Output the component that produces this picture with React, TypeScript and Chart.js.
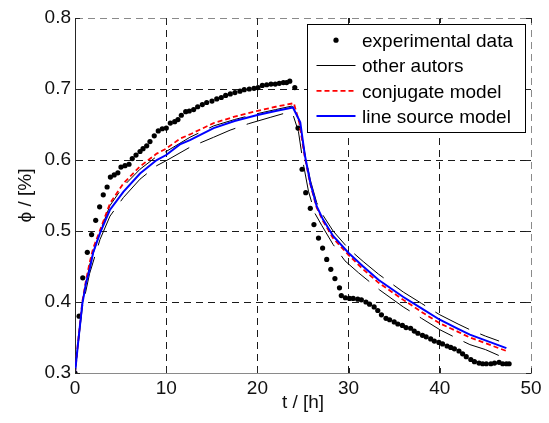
import React, { useEffect, useRef } from 'react';
import { Chart, registerables } from 'chart.js';

Chart.register(...registerables);

// ---------- data ----------
const expT = [
  0.0, 0.45, 0.85, 1.35, 1.82, 2.27, 2.7, 3.1, 3.52, 3.88, 4.3, 4.7, 5.04, 5.48, 5.92, 6.28, 6.69, 7.13,
  7.46, 7.86, 8.22, 8.69, 9.13, 9.57, 10.01, 10.45, 10.93, 11.29, 11.66, 12.14, 12.53, 13.01, 13.45,
  13.96, 14.44, 15.02, 15.54, 16.04, 16.52, 17.03, 17.54, 18.09, 18.56, 19.11, 19.63, 20.07, 20.54,
  21.02, 21.49, 21.96, 22.4, 22.85, 23.2, 23.55, 24.1, 24.45, 24.9, 25.3, 25.8, 26.2, 26.7, 27.15,
  27.6, 28.05, 28.5, 29.0, 29.2, 29.65, 30.1, 30.5, 31.0, 31.4, 31.9, 32.3, 32.8, 33.2, 33.6, 34.1,
  34.5, 35.0, 35.4, 35.9, 36.3, 36.8, 37.2, 37.6, 38.1, 38.5, 39.0, 39.4, 39.9, 40.3, 40.8, 41.2,
  41.6, 42.1, 42.5, 42.9, 43.4, 43.8, 44.3, 44.7, 45.1, 45.6, 46.0, 46.5, 46.9, 47.3, 47.6,
];
const expPhi = [
  0.3, 0.38, 0.434, 0.47, 0.495, 0.515, 0.534, 0.551, 0.562, 0.576, 0.579, 0.582, 0.59, 0.592, 0.594,
  0.602, 0.607, 0.612, 0.616, 0.62, 0.626, 0.634, 0.641, 0.644, 0.645, 0.652, 0.654, 0.657, 0.663,
  0.668, 0.669, 0.671, 0.675, 0.678, 0.681, 0.683, 0.686, 0.688, 0.691, 0.693, 0.695, 0.697, 0.699,
  0.7, 0.701, 0.702, 0.705, 0.706, 0.707, 0.707, 0.708, 0.709, 0.709, 0.711, 0.702, 0.645, 0.587,
  0.554, 0.532, 0.509, 0.49, 0.476, 0.46, 0.446, 0.433, 0.42, 0.409, 0.406, 0.405, 0.405, 0.404,
  0.403, 0.4, 0.397, 0.393, 0.388, 0.382, 0.377, 0.375, 0.372, 0.369, 0.367, 0.364, 0.363, 0.359,
  0.356, 0.353, 0.351, 0.348, 0.345, 0.343, 0.341, 0.338, 0.336, 0.334, 0.331, 0.327, 0.323, 0.319,
  0.316, 0.314, 0.313, 0.313, 0.313, 0.314, 0.315, 0.313, 0.313, 0.313,
];

const otherUpperT = [
  0, 0.8, 1.6, 2.74, 3.84, 5.3, 7.13, 8.96, 10.0, 12.6, 15.2, 17.5, 19.9, 22.0, 23.8, 24.6, 25.2,
  25.8, 26.5, 27.2, 28.3, 30.0, 31.6, 33.3, 36.0, 38.0, 40.0, 42.0, 43.3, 45.0, 46.5,
];
const otherUpperPhi = [
  0.3, 0.398, 0.452, 0.499, 0.536, 0.563, 0.587, 0.605, 0.612, 0.632, 0.648, 0.657, 0.665, 0.671,
  0.676, 0.655, 0.61, 0.572, 0.54, 0.522, 0.5, 0.475, 0.457, 0.439, 0.414, 0.398, 0.382, 0.369,
  0.361, 0.352, 0.345,
];
const otherLowerT = [
  0, 0.8, 1.6, 2.74, 3.84, 5.3, 7.13, 8.96, 10.0, 12.6, 15.2, 17.0, 19.0, 21.4, 23.3, 23.9, 24.5,
  25.0, 25.6, 26.3, 27.05, 28.3, 29.6, 31.1, 33.4, 36.0, 38.0, 40.0, 42.0, 43.3, 45.0, 47.3,
];
const otherLowerPhi = [
  0.3, 0.392, 0.44, 0.488, 0.521, 0.547, 0.573, 0.592, 0.599, 0.618, 0.632, 0.642, 0.651, 0.66,
  0.667, 0.664, 0.64, 0.597, 0.556, 0.525, 0.508, 0.481, 0.458, 0.441, 0.417, 0.393, 0.377, 0.361,
  0.348, 0.34, 0.333, 0.32,
];

const conjT = [
  0, 0.4, 0.8, 1.2, 1.6, 2.0, 2.74, 3.84, 5.3, 7.13, 8.96, 10.0, 11.5, 12.6, 15.2, 17.5, 19.9, 22.0,
  24.0, 24.6, 25.2, 25.8, 26.5, 27.2, 28.3, 30.0, 31.6, 33.3, 36.0, 38.0, 40.0, 42.0, 43.3, 45.0, 47.3,
];
const conjPhi = [
  0.3, 0.352, 0.4, 0.43, 0.455, 0.476, 0.501, 0.539, 0.567, 0.591, 0.609, 0.616, 0.63, 0.636, 0.652,
  0.661, 0.669, 0.675, 0.68, 0.652, 0.604, 0.566, 0.533, 0.514, 0.49, 0.466, 0.446, 0.427, 0.403,
  0.386, 0.37, 0.358, 0.35, 0.342, 0.331,
];

const lineT = [
  0, 0.4, 0.8, 1.2, 1.64, 2.0, 2.74, 3.84, 5.3, 7.13, 8.96, 10.0, 11.5, 12.6, 15.2, 17.5, 19.9, 22.0,
  23.9, 24.7, 25.2, 25.8, 26.5, 27.2, 28.3, 30.0, 31.6, 33.3, 36.0, 38.0, 40.0, 42.0, 43.3, 45.0, 47.3,
];
const linePhi = [
  0.3, 0.35, 0.397, 0.426, 0.448, 0.47, 0.497, 0.53, 0.555, 0.581, 0.6, 0.607, 0.622, 0.628, 0.645,
  0.655, 0.663, 0.669, 0.674, 0.653, 0.607, 0.568, 0.535, 0.516, 0.493, 0.469, 0.45, 0.431, 0.407,
  0.391, 0.375, 0.362, 0.354, 0.346, 0.335,
];

const xTicks = [0, 10, 20, 30, 40, 50];
const yTicks = [0.3, 0.4, 0.5, 0.6, 0.7, 0.8];
const legendLabels = ['experimental data', 'other autors', 'conjugate model', 'line source model'];
const xTitle = 't / [h]';
const yTitle = 'ϕ / [%]';

const FONT_FAMILY = '"Liberation Sans", Arial, sans-serif';
const FONT_SIZE = 19;

const toXY = (t: number[], v: number[]) => t.map((x, i) => ({ x, y: v[i] }));

// inward tick marks (MATLAB style)
const inwardTicks = {
  id: 'inwardTicks',
  afterDatasetsDraw(chart: any) {
    const { ctx, chartArea: ca, scales } = chart;
    const len = 5;
    ctx.save();
    ctx.strokeStyle = '#262626';
    ctx.lineWidth = 1;
    ctx.beginPath();
    xTicks.forEach((v) => {
      const px = Math.round(scales.x.getPixelForValue(v)) + 0.5;
      ctx.moveTo(px, ca.bottom);
      ctx.lineTo(px, ca.bottom - len);
      ctx.moveTo(px, ca.top);
      ctx.lineTo(px, ca.top + len);
    });
    yTicks.forEach((v) => {
      const py = Math.round(scales.y.getPixelForValue(v)) + 0.5;
      ctx.moveTo(ca.left, py);
      ctx.lineTo(ca.left + len, py);
      ctx.moveTo(ca.right, py);
      ctx.lineTo(ca.right - len, py);
    });
    ctx.stroke();
    ctx.restore();
  },
};

// boxed legend inside the plot (top-right)
const boxLegend = {
  id: 'boxLegend',
  afterDraw(chart: any) {
    const { ctx, chartArea: ca } = chart;
    const w = 219;
    const h = 109;
    const x0 = ca.right - 5 - w;
    const y0 = ca.top + 6;
    ctx.save();
    ctx.fillStyle = '#ffffff';
    ctx.fillRect(x0, y0, w, h);
    ctx.strokeStyle = '#000000';
    ctx.lineWidth = 1;
    ctx.setLineDash([]);
    ctx.strokeRect(Math.round(x0) + 0.5, Math.round(y0) + 0.5, w - 1, h - 1);

    const rows = [16.2, 41.5, 66.8, 92.1];
    const lx1 = x0 + 9.5;
    const lx2 = x0 + 48.5;
    const tx = x0 + 55;
    ctx.font = `${FONT_SIZE}px ${FONT_FAMILY}`;
    ctx.textBaseline = 'alphabetic';
    ctx.textAlign = 'left';
    legendLabels.forEach((label, i) => {
      const cy = y0 + rows[i];
      if (i === 0) {
        ctx.fillStyle = '#000';
        ctx.beginPath();
        ctx.arc((lx1 + lx2) / 2, cy, 2.6, 0, Math.PI * 2);
        ctx.fill();
      } else {
        ctx.beginPath();
        if (i === 1) {
          ctx.strokeStyle = '#000';
          ctx.lineWidth = 1;
          ctx.setLineDash([]);
        } else if (i === 2) {
          ctx.strokeStyle = '#ff0000';
          ctx.lineWidth = 1.8;
          ctx.setLineDash([5, 3]);
        } else {
          ctx.strokeStyle = '#0000ff';
          ctx.lineWidth = 2;
          ctx.setLineDash([]);
        }
        ctx.moveTo(lx1, cy);
        ctx.lineTo(lx2, cy);
        ctx.stroke();
        ctx.setLineDash([]);
      }
      ctx.fillStyle = '#000';
      ctx.fillText(label, tx, cy + 6.8);
    });
    ctx.restore();
  },
};

export default function App() {
  const canvasRef = useRef<HTMLCanvasElement | null>(null);

  useEffect(() => {
    const canvas = canvasRef.current;
    if (!canvas) return;
    const font = { family: FONT_FAMILY, size: FONT_SIZE };
    const tickColor = '#111';

    const chart = new Chart(canvas, {
      type: 'line',
      data: {
        datasets: [
          {
            label: legendLabels[3],
            data: toXY(lineT, linePhi),
            borderColor: '#0000ff',
            borderWidth: 2,
            pointRadius: 0,
            fill: false,
            order: 0,
          },
          {
            label: legendLabels[2],
            data: toXY(conjT, conjPhi),
            borderColor: '#ff0000',
            borderWidth: 1.8,
            borderDash: [5, 3],
            pointRadius: 0,
            fill: false,
            order: 1,
          },
          {
            label: legendLabels[1],
            data: toXY(otherUpperT, otherUpperPhi),
            borderColor: '#000000',
            borderWidth: 1,
            borderDash: [38, 12],
            pointRadius: 0,
            fill: false,
            order: 2,
          },
          {
            label: legendLabels[1] + ' (2)',
            data: toXY(otherLowerT, otherLowerPhi),
            borderColor: '#000000',
            borderWidth: 1,
            borderDash: [38, 12],
            borderDashOffset: 20,
            pointRadius: 0,
            fill: false,
            order: 3,
          },
          {
            label: legendLabels[0],
            data: toXY(expT, expPhi),
            showLine: false,
            pointRadius: 2.6,
            pointBackgroundColor: '#000000',
            pointBorderWidth: 0,
            borderColor: '#000000',
            order: 4,
          },
        ],
      },
      options: {
        responsive: false,
        maintainAspectRatio: false,
        animation: false,
        events: [],
        layout: { padding: { top: 18, right: 18, left: 0, bottom: 0 } },
        plugins: {
          legend: { display: false },
          tooltip: { enabled: false },
        },
        scales: {
          x: {
            type: 'linear',
            min: 0,
            max: 50,
            afterBuildTicks: (s: any) => {
              s.ticks = xTicks.map((v) => ({ value: v }));
            },
            afterFit: (s: any) => {
              s.height = 50;
            },
            ticks: {
              font,
              color: tickColor,
              padding: 4,
              maxRotation: 0,
              autoSkip: false,
              callback: (v: any) => String(v),
            },
            grid: {
              drawTicks: false,
              lineWidth: 1,
              color: (c: any) =>
                c.tick && c.tick.value === 50 ? '#8a8a8a' : c.tick && c.tick.value === 0 ? 'rgba(0,0,0,0)' : '#1a1a1a',
            },
            border: { display: true, color: '#8a8a8a', width: 1, dash: [7, 5] },
            title: {
              display: true,
              text: xTitle,
              font,
              color: tickColor,
              padding: { top: 0, bottom: 9 },
            },
          },
          y: {
            type: 'linear',
            min: 0.3,
            max: 0.8,
            afterBuildTicks: (s: any) => {
              s.ticks = yTicks.map((v) => ({ value: v }));
            },
            afterFit: (s: any) => {
              s.width = 75;
            },
            ticks: {
              font,
              color: tickColor,
              padding: 4,
              autoSkip: false,
              callback: (v: any) => Number(v).toFixed(1),
            },
            grid: {
              drawTicks: false,
              lineWidth: 1,
              color: (c: any) =>
                c.tick && c.tick.value === 0.8 ? '#8a8a8a' : c.tick && c.tick.value === 0.3 ? 'rgba(0,0,0,0)' : '#1a1a1a',
            },
            border: { display: true, color: '#262626', width: 1, dash: [7, 5] },
            title: {
              display: true,
              text: yTitle,
              font,
              color: tickColor,
              padding: { top: 14, bottom: 0 },
            },
          },
        },
      },
      plugins: [inwardTicks, boxLegend],
    });

    return () => {
      chart.destroy();
    };
  }, []);

  return (
    <div
      style={{
        position: 'fixed',
        left: 0,
        top: 0,
        width: 549,
        height: 423,
        background: '#ffffff',
      }}
    >
      <canvas ref={canvasRef} width={549} height={423} style={{ display: 'block' }} />
    </div>
  );
}
